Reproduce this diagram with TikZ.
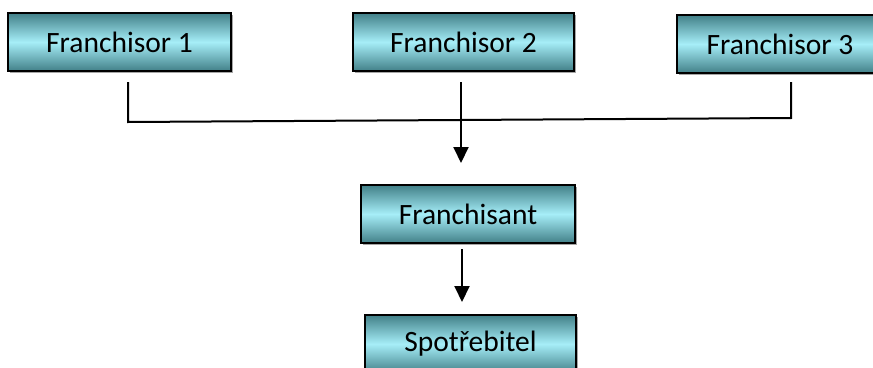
\documentclass[tikz,border=0pt]{standalone}
\usepackage{fontspec}
\setmainfont{Carlito}
\usetikzlibrary{arrows.meta,shadows}
\definecolor{boxdark}{RGB}{66,128,136}
\definecolor{boxlight}{RGB}{166,238,248}
\tikzset{
  cbox/.style={draw=black, line width=1.8pt, minimum height=58pt, inner sep=0pt,
    top color=boxdark, bottom color=boxdark, middle color=boxlight,
    drop shadow={shadow xshift=1.5pt, shadow yshift=-1.5pt, fill=gray!70, opacity=1},
    font=\fontsize{29.5}{35}\selectfont},
  conn/.style={draw=black, line width=2pt},
  arr/.style={conn, -{Triangle[width=15pt,length=16pt]}}
}
\begin{document}
\begin{tikzpicture}[x=1pt,y=-1pt]
\clip (0,0) rectangle (873,367);
\node[cbox, minimum width=223pt] (f1) at (119.5,42) {Franchisor 1};
\node[cbox, minimum width=221pt] (f2) at (463.5,42) {Franchisor 2};
\node[cbox, minimum width=206pt] (f3) at (780,44) {Franchisor 3};
\node[cbox, minimum width=214pt] (fa) at (468,214) {Franchisant};
\node[cbox, minimum width=211pt] (sp) at (470.5,344) {Spotřebitel};
\coordinate (j1) at (128,122);
\coordinate (j3) at (791,118);
\coordinate (s1) at (128,82);
\coordinate (s3) at (791,82);
\coordinate (s2) at (461,82);
\coordinate (e2) at (461,163);
\coordinate (s4) at (462,249);
\coordinate (e4) at (462,302);
\draw[conn] (s1) -- (j1) -- (j3) -- (s3);
\draw[arr] (s2) -- (e2);
\draw[arr] (s4) -- (e4);
\end{tikzpicture}
\end{document}
